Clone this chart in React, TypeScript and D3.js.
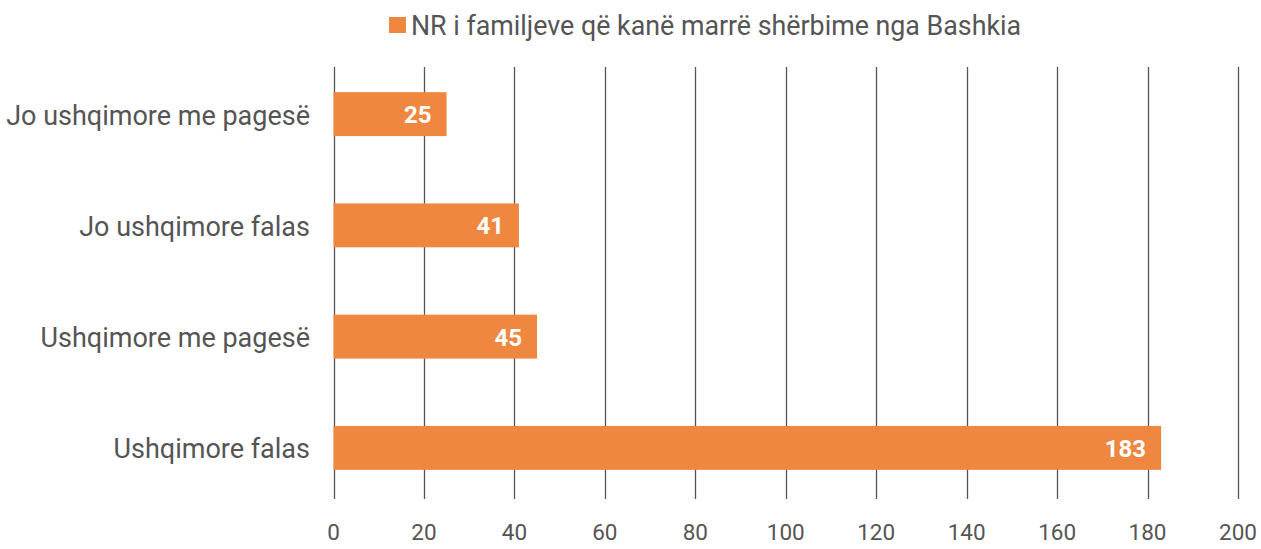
import React from "react";
import * as d3 from "d3";

const categories = ["Jo ushqimore me pagesë", "Jo ushqimore falas", "Ushqimore me pagesë", "Ushqimore falas"];
const values = [25, 41, 45, 183];
const ticks = [0, 20, 40, 60, 80, 100, 120, 140, 160, 180, 200];
const legendLabel = "NR i familjeve që kanë marrë shërbime nga Bashkia";

const W = 1261;
const H = 549;
const FONT = "Roboto, 'Noto Sans', sans-serif";
const ORANGE = "#F08740";
const GRAY = "#555555";

export default function App() {
  const x = d3.scaleLinear().domain([0, 200]).range([333.5, 1238]);
  const y = d3.scaleBand<string>().domain(categories).range([58.5, 503.5]).paddingInner(0.605).paddingOuter(0.3025);
  return (
    <svg width={W} height={H} style={{ position: "absolute", left: 0, top: 0 }}>
      <rect x={0} y={0} width={W} height={H} fill="#fff" />
      {ticks.map((t) => (
        <g key={t}>
          <line x1={Math.round(x(t)) + 0.5} x2={Math.round(x(t)) + 0.5} y1={67} y2={499} stroke={GRAY} strokeWidth={1.3} />
          <text x={x(t)} y={540} textAnchor="middle" fontFamily={FONT} fontSize={22.5} fill={GRAY}>
            {t}
          </text>
        </g>
      ))}
      {categories.map((c, i) => {
        const by = y(c)!;
        const bh = y.bandwidth();
        return (
          <g key={c}>
            <rect x={x(0)} y={by} width={x(values[i]) - x(0)} height={bh} fill={ORANGE} />
            <text x={x(values[i]) - 15} y={by + bh / 2 + 9} textAnchor="end" fontFamily={FONT} fontWeight={700} fontSize={24} fill="#fff">
              {values[i]}
            </text>
            <text x={310} y={by + bh / 2 + 10.5} textAnchor="end" fontFamily={FONT} fontSize={27} fill={GRAY}>
              {c}
            </text>
          </g>
        );
      })}
      <rect x={389} y={17} width={17} height={16} fill={ORANGE} />
      <text x={411} y={35} fontFamily={FONT} fontSize={26.8} fill={GRAY}>
        {legendLabel}
      </text>
    </svg>
  );
}
